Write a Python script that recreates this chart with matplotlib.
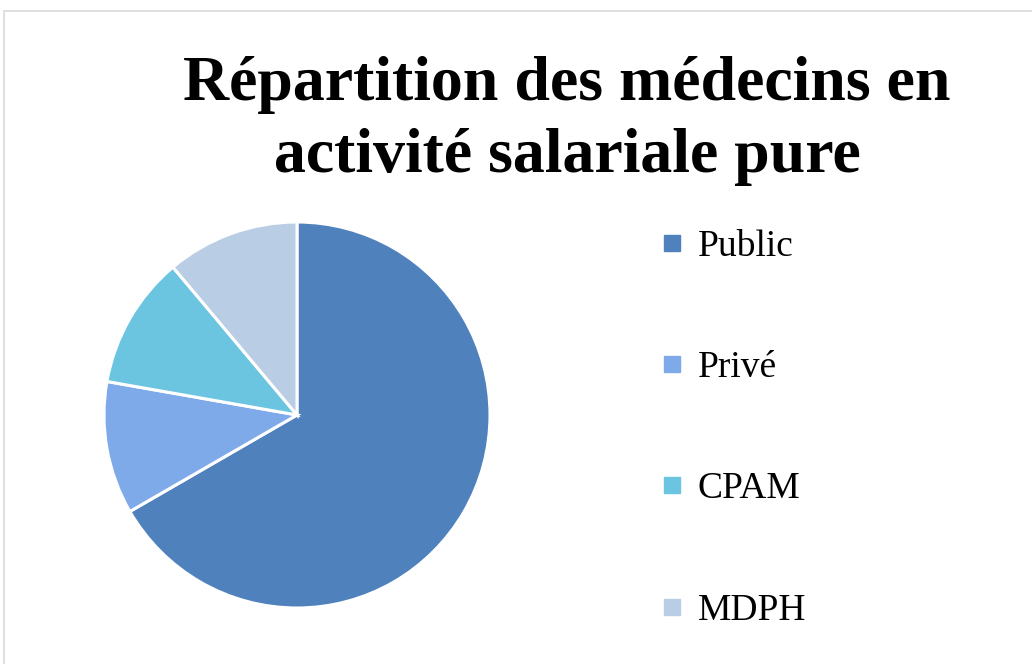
import matplotlib.pyplot as plt
from matplotlib.lines import Line2D
from matplotlib.patches import Rectangle

# Data
labels = ['Public', 'Privé', 'CPAM', 'MDPH']
values = [60, 10, 10, 10]
colors = ['#4f81bd', '#7eaaea', '#6bc4e0', '#b9cde5']

plt.rcParams['font.family'] = ['Liberation Serif', 'DejaVu Serif']

fig = plt.figure(figsize=(10.32, 6.64), dpi=100)

# light frame around the chart area
fig.patches.append(Rectangle((4 / 1032, -0.01), 1.0, 1 - 11 / 664 + 0.01,
                             transform=fig.transFigure, fill=False,
                             edgecolor='#d9d9d9', linewidth=1.2))

# Pie
ax = fig.add_axes([104 / 1032, 56 / 664, 386 / 1032, 386 / 664])
ax.pie(values, colors=colors, startangle=90, counterclock=False,
       wedgeprops=dict(edgecolor='white', linewidth=2.2))
ax.set_xlim(-1, 1)
ax.set_ylim(-1, 1)
ax.set_aspect('equal')

# Title
fig.text(567 / 1032, 1 - 121 / 664,
         'Répartition des médecins en\nactivité salariale pure',
         ha='center', va='center', fontsize=46, fontweight='bold',
         linespacing=1.3)

# Legend
handles = [Line2D([], [], marker='s', linestyle='none', markersize=11,
                  markerfacecolor=c, markeredgecolor=c) for c in colors]
fig.legend(handles, labels, loc='upper left',
           bbox_to_anchor=(636 / 1032, 1 - 211 / 664),
           frameon=False, fontsize=27, labelspacing=2.31,
           handletextpad=0.25, handlelength=0.9, borderpad=0)

plt.savefig('out.png', dpi=100)
